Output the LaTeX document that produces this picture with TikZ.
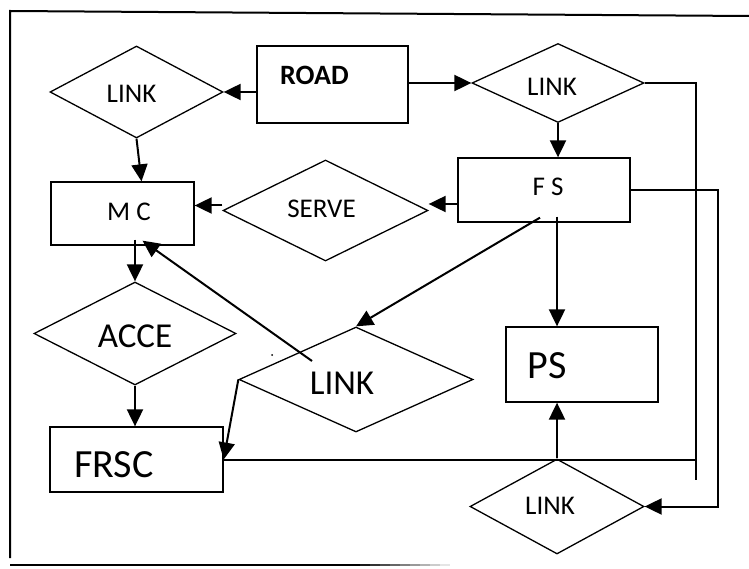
\documentclass[tikz,border=0pt]{standalone}
\usepackage{fontspec}
\setmainfont{Carlito}
\usetikzlibrary{shapes.geometric,arrows.meta}
\begin{document}
\begin{tikzpicture}[x=1pt,y=-1pt,
  rectbox/.style={draw,line width=1.3pt,rectangle,inner sep=0pt},
  dia/.style={draw,line width=1.3pt,diamond,inner sep=0pt},
  conn/.style={line width=2pt},
  arr/.style={line width=2pt,-{Triangle[length=17pt,width=16pt]}},
  smalltxt/.style={font=\fontsize{27}{30}\selectfont,inner sep=0pt},
  midtxt/.style={font=\fontsize{35}{40}\selectfont,inner sep=0pt},
  bigtxt/.style={font=\fontsize{40}{44}\selectfont,inner sep=0pt},
  borderline/.style={line width=2pt}]
\useasboundingbox (0,0) rectangle (749,569);

% border
\draw[borderline] (749,16) -- (10,11) -- (10,558);
\draw[borderline] (10,565) -- (350,565);
\foreach \i in {0,...,9}{
  \pgfmathsetmacro{\shadeval}{100-10*\i}
  \draw[line width=2pt,color=black!\shadeval] (350+10*\i,565) -- (360+10*\i,565);
}

% shapes
\node[dia, minimum width=173pt, minimum height=92pt] (l1) at (136.5,92) {};
\node[rectbox, minimum width=151pt, minimum height=77pt] (road) at (332.5,84.5) {};
\node[dia, minimum width=172pt, minimum height=79pt] (l2) at (558,83) {};
\node[rectbox, minimum width=172pt, minimum height=64pt] (fs) at (544,190) {};
\node[rectbox, minimum width=143pt, minimum height=63pt] (mc) at (122.5,213.5) {};
\node[dia, minimum width=205pt, minimum height=101pt] (serve) at (325.5,210.5) {};
\node[dia, minimum width=202pt, minimum height=103pt] (acce) at (135,333.5) {};
\node[dia, minimum width=234pt, minimum height=105pt] (l4) at (356,379.5) {};
\node[rectbox, minimum width=173pt, minimum height=65pt] (frsc) at (136.5,459.5) {};
\node[rectbox, minimum width=152pt, minimum height=75pt] (ps) at (582,364.5) {};
\node[dia, minimum width=174pt, minimum height=95pt] (l3) at (557,506.5) {};

% texts
\node[smalltxt] (t1) at (131.5,93.5) {LINK};
\node[smalltxt,font=\fontsize{28}{30}\selectfont\bfseries] (troad) at (314.5,75.5) {ROAD};
\node[smalltxt] (t2) at (552,87) {LINK};
\node[smalltxt] (tfs) at (548,187) {F S};
\node[smalltxt] (tmc) at (129,211.5) {M C};
\node[smalltxt] (tserve) at (321.5,209) {SERVE};
\node[midtxt] (tacce) at (135,336) {ACCE};
\node[midtxt] (t4) at (342,383) {LINK};
\node[bigtxt] (tfrsc) at (114,465) {FRSC};
\node[bigtxt] (tps) at (547,365.5) {PS};
\node[smalltxt] (t3) at (550,506) {LINK};

% helper coordinates
\coordinate (r1) at (696,480);
\coordinate (r2) at (718,300);
\coordinate (fsw) at ([yshift=-14pt]fs.west);
\coordinate (l4in) at ([xshift=-44pt,yshift=18.5pt]l4.center);
\coordinate (fsdiag) at ([xshift=-4pt,yshift=5pt]fs.south);

% connectors
\draw[arr] (road.west |- l1.east) -- (l1.east);
\draw[arr] (road.east |- l2.west) -- (l2.west);
\draw[arr] (l2.south) -- (l2.south |- fs.north);
\draw[arr] (l1.south) -- ([xshift=5pt]l1.south |- mc.north);
\draw[arr] (fsw) -- (fsw -| serve.east);
\draw[arr] ([yshift=5pt]serve.west) -- ([yshift=5pt]serve.west -| mc.east);
\draw[arr] ([yshift=6pt]acce.north |- mc.south) -- (acce.north);
\draw[arr] (acce.south) -- (acce.south |- frsc.north);
\draw[arr] (fsdiag) -- (l4.north);
\draw[arr] ([yshift=6pt]l3.north |- fs.south) -- (l3.north |- ps.north);
\draw[arr] (l3.north) -- (l3.north |- ps.south);
\draw[conn] (frsc.east) -- (frsc.east -| r1);
\draw[arr] (l4.west) -- (frsc.east);
\draw[arr] (l4in) -- ([xshift=20pt,yshift=5pt]mc.south);
\draw[conn] (l2.east) -| (r1);
\draw[arr] (fs.east) -| (r2) |- (l3.east);

\fill (272,355) circle (1pt);
\end{tikzpicture}
\end{document}
